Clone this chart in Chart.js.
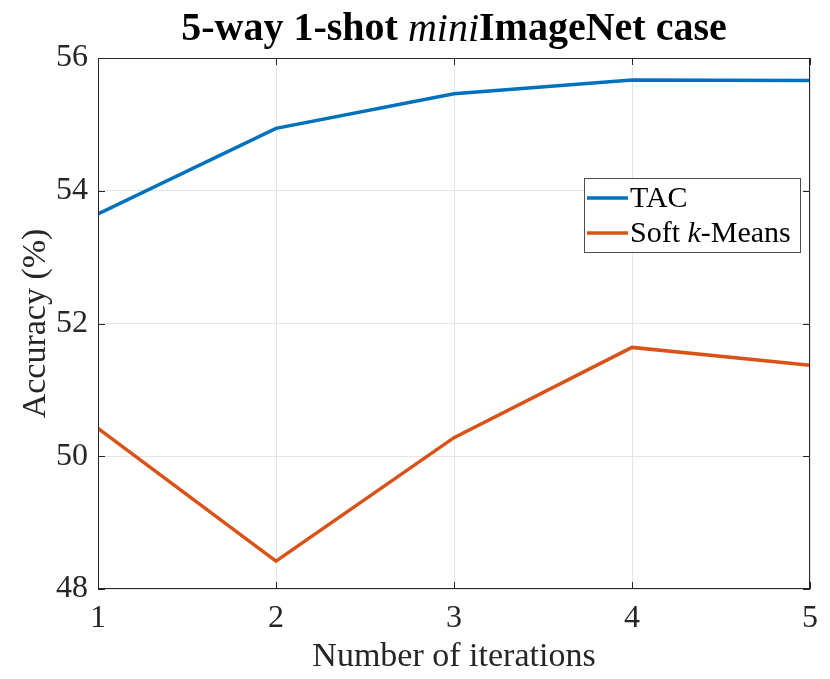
<!DOCTYPE html>
<html>

<head>
  <script src="https://cdn.jsdelivr.net/npm/chart.js@4/dist/chart.umd.min.js"></script>
  <style>
    body { margin: 0; background: #fff; }
  </style>
</head>

<body>
  <canvas id="chart" width="830" height="679"></canvas>
  <script>
    const iterations = [1, 2, 3, 4, 5];
    const tacAcc = [53.65, 54.94, 55.46, 55.67, 55.66];
    const softKMeansAcc = [50.42, 48.42, 50.28, 51.64, 51.37];
    const yTicks = [48, 50, 52, 54, 56];

    const serif = '"Liberation Serif"';
    const ink = '#262626';

    // title with an italic "mini" part
    const titlePlugin = {
      id: 'mixedTitle',
      afterDraw(chart) {
        const ctx = chart.ctx;
        const parts = [
          ['5-way 1-shot ', 'bold 40px ' + serif],
          ['mini', 'italic 40px ' + serif],
          ['ImageNet case', 'bold 40px ' + serif]
        ];
        ctx.save();
        let total = 0;
        parts.forEach(p => { ctx.font = p[1]; total += ctx.measureText(p[0]).width; });
        const area = chart.chartArea;
        let x = (area.left + area.right) / 2 - total / 2;
        ctx.fillStyle = '#000';
        ctx.textBaseline = 'middle';
        parts.forEach(p => {
          ctx.font = p[1];
          ctx.fillText(p[0], x, 30);
          x += ctx.measureText(p[0]).width;
        });
        ctx.restore();
      }
    };

    // MATLAB-like box, inward ticks and legend
    const boxPlugin = {
      id: 'boxLegend',
      afterDraw(chart) {
        const ctx = chart.ctx;
        const a = chart.chartArea;
        const xs = chart.scales.x, ys = chart.scales.y;
        ctx.save();
        ctx.strokeStyle = ink;
        ctx.lineWidth = 1;
        ctx.strokeRect(a.left + 0.5, a.top + 0.5, a.right - a.left - 1, a.bottom - a.top - 1);
        ctx.beginPath();
        iterations.forEach(v => {
          const px = Math.round(xs.getPixelForValue(v)) + 0.5;
          ctx.moveTo(px, a.bottom); ctx.lineTo(px, a.bottom - 7);
          ctx.moveTo(px, a.top); ctx.lineTo(px, a.top + 7);
        });
        yTicks.forEach(v => {
          const py = Math.round(ys.getPixelForValue(v)) + 0.5;
          ctx.moveTo(a.left, py); ctx.lineTo(a.left + 7, py);
          ctx.moveTo(a.right, py); ctx.lineTo(a.right - 7, py);
        });
        ctx.stroke();

        // legend
        const lx = a.right - 226, ly = a.top + 120, lw = 216, lh = 74;
        ctx.fillStyle = '#fff';
        ctx.fillRect(lx, ly, lw, lh);
        ctx.strokeStyle = '#4d4d4d';
        ctx.strokeRect(lx + 0.5, ly + 0.5, lw, lh);
        const rows = [
          [['TAC', '30px ' + serif]],
          [['Soft ', '30px ' + serif], ['k', 'italic 30px ' + serif], ['-Means', '30px ' + serif]]
        ];
        chart.data.datasets.forEach((ds, i) => {
          const cy = ly + 20 + i * 35;
          ctx.strokeStyle = ds.borderColor;
          ctx.lineWidth = 3.5;
          ctx.beginPath();
          ctx.moveTo(lx + 3, cy); ctx.lineTo(lx + 44, cy);
          ctx.stroke();
          let tx = lx + 46;
          ctx.fillStyle = '#000';
          ctx.textBaseline = 'middle';
          rows[i].forEach(p => {
            ctx.font = p[1];
            ctx.fillText(p[0], tx, cy + 1);
            tx += ctx.measureText(p[0]).width;
          });
        });
        ctx.restore();
      }
    };

    new Chart('chart', {
      type: 'line',
      data: {
        datasets: [{
          label: 'TAC',
          data: iterations.map((x, i) => ({ x: x, y: tacAcc[i] })),
          borderColor: '#0072BD',
          borderWidth: 3.5,
          pointRadius: 0,
          fill: false,
          tension: 0
        }, {
          label: 'Soft k-Means',
          data: iterations.map((x, i) => ({ x: x, y: softKMeansAcc[i] })),
          borderColor: '#D95319',
          borderWidth: 3.5,
          pointRadius: 0,
          fill: false,
          tension: 0
        }]
      },
      options: {
        responsive: false,
        animation: false,
        events: [],
        layout: { padding: { top: 58, right: 20, left: 0, bottom: 0 } },
        plugins: {
          legend: { display: false },
          tooltip: { enabled: false }
        },
        scales: {
          x: {
            type: 'linear',
            min: 1,
            max: 5,
            afterFit: s => { s.height = 90; },
            afterBuildTicks: s => { s.ticks = iterations.map(v => ({ value: v })); },
            grid: { color: '#e5e5e5', drawTicks: false },
            border: { display: false },
            ticks: { color: ink, padding: 10, font: { family: serif, size: 32 } },
            title: {
              display: true,
              text: 'Number of iterations',
              color: ink,
              font: { family: serif, size: 34 },
              padding: { top: 0, bottom: 2 }
            }
          },
          y: {
            min: 48,
            max: 56,
            afterFit: s => { s.width = 98; },
            afterBuildTicks: s => { s.ticks = yTicks.map(v => ({ value: v })); },
            grid: { color: '#e5e5e5', drawTicks: false },
            border: { display: false },
            ticks: { color: ink, padding: 10, font: { family: serif, size: 32 } },
            title: {
              display: true,
              text: 'Accuracy (%)',
              color: ink,
              font: { family: serif, size: 34 },
              padding: { top: 16, bottom: 16 }
            }
          }
        }
      },
      plugins: [titlePlugin, boxPlugin]
    });
  </script>
</body>

</html>
